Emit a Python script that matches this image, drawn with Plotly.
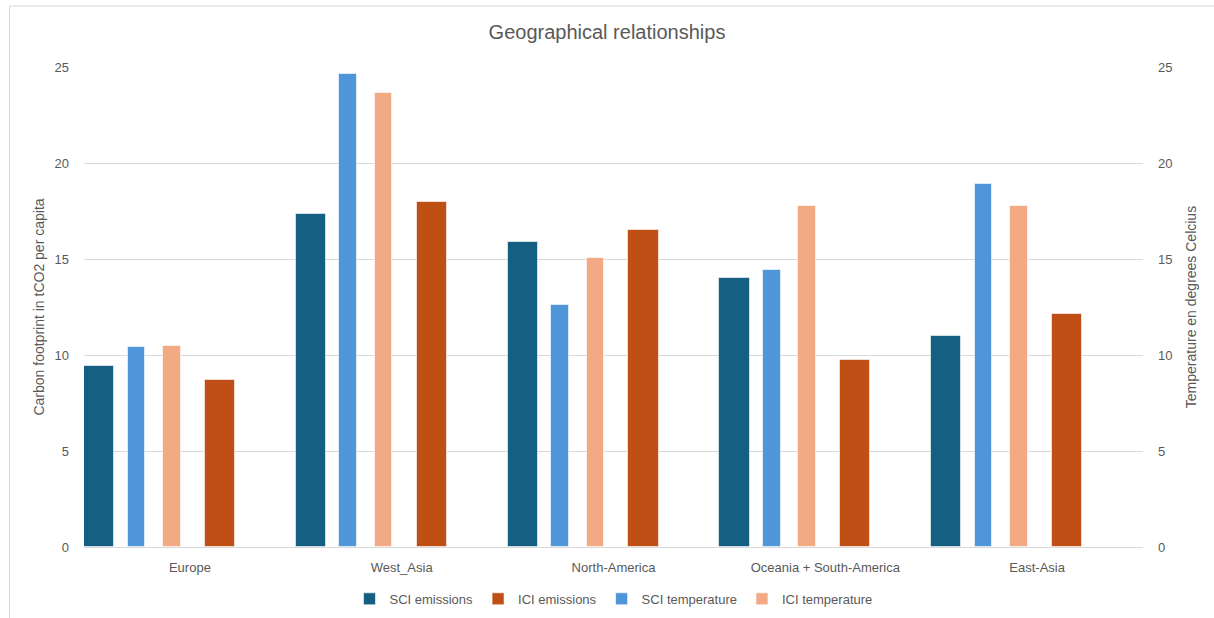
import plotly.graph_objects as go

# Regions along the category axis
regions = ["Europe", "West_Asia", "North-America", "Oceania + South-America", "East-Asia"]

# Carbon footprint (tCO2 per capita) - primary axis
sci_emissions = [9.42, 17.33, 15.87, 14.03, 10.98]
ici_emissions = [8.69, 17.99, 16.53, 9.73, 12.14]

# Temperature (degrees Celsius) - secondary axis
sci_temperature = [10.42, 24.64, 12.59, 14.45, 18.92]
ici_temperature = [10.47, 23.67, 15.05, 17.74, 17.78]

x_pos = list(range(len(regions)))

TEAL = "#156082"
ORANGE = "#C04F15"
BLUE = "#4E95D9"
PEACH = "#F2AA84"
GRAY_TEXT = "#595959"
GRID = "#D9D9D9"
FONT = "Liberation Sans, Arial, sans-serif"

fig = go.Figure()

bar_line = dict(color="rgba(255,255,255,0.6)", width=1)

fig.add_trace(go.Bar(
    x=x_pos, y=sci_emissions, name="SCI emissions",
    marker=dict(color=TEAL, line=bar_line),
    offset=-0.5, width=0.143, yaxis="y",
))
fig.add_trace(go.Bar(
    x=x_pos, y=ici_emissions, name="ICI emissions",
    marker=dict(color=ORANGE, line=bar_line),
    offset=0.07, width=0.143, yaxis="y",
))
fig.add_trace(go.Bar(
    x=x_pos, y=sci_temperature, name="SCI temperature",
    marker=dict(color=BLUE, line=bar_line),
    offset=-0.294, width=0.083, yaxis="y2",
))
fig.add_trace(go.Bar(
    x=x_pos, y=ici_temperature, name="ICI temperature",
    marker=dict(color=PEACH, line=bar_line),
    offset=-0.127, width=0.083, yaxis="y2",
))

tick_vals = [0, 5, 10, 15, 20, 25]

fig.update_layout(
    width=1214, height=618,
    margin=dict(l=84, r=71, t=66.5, b=71, autoexpand=False),
    paper_bgcolor="white", plot_bgcolor="white",
    barmode="overlay",
    font=dict(family=FONT, color=GRAY_TEXT, size=13),
    title=dict(
        text="Geographical relationships",
        x=0.5, xanchor="center", y=0.948, yanchor="middle",
        font=dict(size=20, color=GRAY_TEXT, family=FONT),
    ),
    xaxis=dict(
        range=[-0.5, 4.5], tickmode="array", tickvals=x_pos, ticktext=regions,
        showgrid=False, zeroline=False, showline=True, linecolor=GRID, linewidth=1,
        ticks="", ticklabelstandoff=8, tickfont=dict(size=13, color=GRAY_TEXT),
    ),
    yaxis=dict(
        range=[0, 25], tickmode="array", tickvals=tick_vals,
        showgrid=True, gridcolor=GRID, gridwidth=1, zeroline=False,
        showline=False, ticks="", ticklabelstandoff=14,
        tickfont=dict(size=13, color=GRAY_TEXT),
        title=dict(text="Carbon footprint in tCO2 per capita", standoff=6,
                   font=dict(size=14, color=GRAY_TEXT)),
    ),
    yaxis2=dict(
        range=[0, 25], tickmode="array", tickvals=tick_vals,
        overlaying="y", side="right", showgrid=False, zeroline=False,
        showline=False, ticks="", ticklabelstandoff=14,
        tickfont=dict(size=13, color=GRAY_TEXT),
        title=dict(text="Temperature en degrees Celcius", standoff=14,
                   font=dict(size=14, color=GRAY_TEXT)),
    ),
    legend=dict(
        orientation="h", x=0.5, xanchor="center",
        yref="container", y=0.031, yanchor="middle",
        font=dict(size=13, color=GRAY_TEXT), itemwidth=30,
        traceorder="normal", bgcolor="rgba(0,0,0,0)",
    ),
    bargap=0,
)

# Chart-area frame
fig.add_shape(
    type="rect", xref="paper", yref="paper",
    x0=-0.0703, x1=1.07, y0=-0.2, y1=1.127,
    line=dict(color="#D9D9D9", width=1), fillcolor="rgba(0,0,0,0)", layer="below",
)

fig.write_html("out.html")
